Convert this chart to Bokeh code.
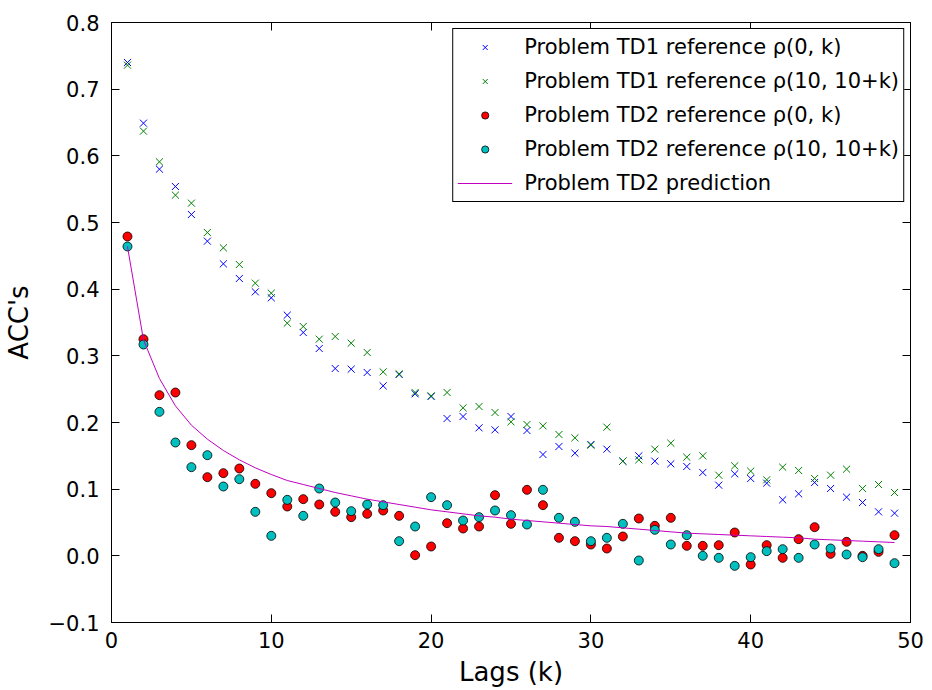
from bokeh.plotting import figure
from bokeh.models import (Range1d, LinearAxis, FixedTicker, CustomJSTickFormatter,
                          Legend, LegendItem)
from bokeh.embed import file_html
from bokeh.resources import INLINE

# ---- data ----
lags = list(range(1, 50))

td1_rho_0k = [0.740, 0.649, 0.580, 0.554, 0.512, 0.472, 0.438, 0.416, 0.396, 0.387,
              0.361, 0.335, 0.311, 0.281, 0.280, 0.275, 0.255, 0.272, 0.243, 0.239,
              0.206, 0.209, 0.192, 0.189, 0.209, 0.188, 0.152, 0.164, 0.154, 0.167,
              0.160, 0.142, 0.150, 0.142, 0.138, 0.134, 0.125, 0.106, 0.123, 0.116,
              0.109, 0.084, 0.093, 0.110, 0.101, 0.088, 0.080, 0.066, 0.064]

td1_rho_10k = [0.736, 0.637, 0.591, 0.541, 0.529, 0.485, 0.462, 0.437, 0.409, 0.394,
               0.349, 0.344, 0.325, 0.329, 0.319, 0.305, 0.276, 0.273, 0.245, 0.240,
               0.245, 0.222, 0.224, 0.215, 0.201, 0.197, 0.195, 0.182, 0.177, 0.166,
               0.193, 0.142, 0.144, 0.160, 0.169, 0.148, 0.150, 0.121, 0.135, 0.127,
               0.114, 0.133, 0.128, 0.116, 0.121, 0.130, 0.101, 0.107, 0.095]

td2_rho_0k = [0.479, 0.325, 0.241, 0.245, 0.166, 0.118, 0.124, 0.131, 0.108, 0.094,
              0.074, 0.085, 0.077, 0.066, 0.058, 0.063, 0.068, 0.060, 0.001, 0.014,
              0.049, 0.041, 0.044, 0.091, 0.048, 0.099, 0.076, 0.027, 0.022, 0.017,
              0.011, 0.029, 0.056, 0.045, 0.057, 0.015, 0.015, 0.016, 0.035, -0.013,
              0.016, -0.003, 0.025, 0.043, 0.003, 0.021, 0.000, 0.006, 0.031]

td2_rho_10k = [0.464, 0.317, 0.216, 0.170, 0.133, 0.151, 0.104, 0.115, 0.066, 0.030,
               0.084, 0.060, 0.101, 0.080, 0.067, 0.077, 0.076, 0.022, 0.044, 0.088,
               0.076, 0.053, 0.058, 0.068, 0.061, 0.047, 0.099, 0.057, 0.051, 0.022,
               0.027, 0.048, -0.007, 0.039, 0.017, 0.031, 0.000, -0.003, -0.015, -0.002,
               0.007, 0.010, -0.003, 0.017, 0.011, 0.002, -0.002, 0.010, -0.011]

td2_prediction = [0.464, 0.324, 0.266, 0.225, 0.196, 0.175, 0.158, 0.144, 0.132, 0.122,
                  0.113, 0.107, 0.101, 0.095, 0.090, 0.085, 0.081, 0.077, 0.073, 0.069,
                  0.066, 0.063, 0.060, 0.058, 0.055, 0.053, 0.051, 0.049, 0.047, 0.045,
                  0.044, 0.042, 0.040, 0.038, 0.036, 0.034, 0.033, 0.032, 0.031, 0.030,
                  0.029, 0.028, 0.027, 0.025, 0.024, 0.023, 0.022, 0.021, 0.020]

x_ticks = [0, 10, 20, 30, 40, 50]
y_ticks = [-0.1, 0.0, 0.1, 0.2, 0.3, 0.4, 0.5, 0.6, 0.7, 0.8]

labels = ["Problem TD1 reference \u03c1(0, k)",
          "Problem TD1 reference \u03c1(10, 10+k)",
          "Problem TD2 reference \u03c1(0, k)",
          "Problem TD2 reference \u03c1(10, 10+k)",
          "Problem TD2 prediction"]

FONT = "DejaVu Sans"

p = figure(width=932, height=690, output_backend="svg", toolbar_location=None,
           x_range=Range1d(0, 50), y_range=Range1d(-0.1, 0.8),
           min_border_left=110, min_border_right=22, min_border_top=22,
           min_border_bottom=68)
p.background_fill_color = "white"
p.border_fill_color = "white"
p.outline_line_color = "black"
p.outline_line_width = 1
p.xgrid.visible = False
p.ygrid.visible = False

fmt = CustomJSTickFormatter(code="""
    return (tick < -1e-9 ? "\\u2212" : "") + Math.abs(tick).toFixed(1);
""")
blank = CustomJSTickFormatter(code="return '';")

def style_axis(ax, show_labels):
    ax.major_tick_in = 8
    ax.major_tick_out = 0
    ax.minor_tick_in = 0
    ax.minor_tick_out = 0
    ax.axis_line_color = "black"
    ax.major_tick_line_color = "black"
    ax.major_label_text_font = FONT
    ax.major_label_text_color = "black"
    ax.major_label_text_font_size = "21px"
    if not show_labels:
        ax.formatter = blank
        ax.major_label_standoff = 0
    ax.axis_label_text_font = FONT
    ax.axis_label_text_font_style = "normal"
    ax.axis_label_text_font_size = "26px"
    ax.axis_label_text_color = "black"

p.xaxis.ticker = FixedTicker(ticks=x_ticks)
p.yaxis.ticker = FixedTicker(ticks=y_ticks)
p.yaxis.formatter = fmt
style_axis(p.xaxis[0], True)
style_axis(p.yaxis[0], True)
p.xaxis.axis_label = "Lags (k)"
p.yaxis.axis_label = "ACC's"
p.xaxis.major_label_standoff = 9
p.yaxis.major_label_standoff = 12
p.xaxis.axis_label_standoff = 6
p.yaxis.axis_label_standoff = 12

top = LinearAxis(ticker=FixedTicker(ticks=x_ticks))
right = LinearAxis(ticker=FixedTicker(ticks=y_ticks))
style_axis(top, False)
style_axis(right, False)
p.add_layout(top, "above")
p.add_layout(right, "right")

r1 = p.scatter(lags, td1_rho_0k, marker="x", size=10, line_color="#0000ff", line_width=1)
r2 = p.scatter(lags, td1_rho_10k, marker="x", size=10, line_color="#008000", line_width=1)
r3 = p.scatter(lags, td2_rho_0k, marker="circle", size=9, fill_color="#ff0000",
               line_color="black", line_width=0.8)
r4 = p.scatter(lags, td2_rho_10k, marker="circle", size=9, fill_color="#00bfbf",
               line_color="black", line_width=0.8)
r5 = p.line(lags, td2_prediction, line_color="#bf00bf", line_width=1)

legend = Legend(items=[LegendItem(label=labels[0], renderers=[r1]),
                       LegendItem(label=labels[1], renderers=[r2]),
                       LegendItem(label=labels[2], renderers=[r3]),
                       LegendItem(label=labels[3], renderers=[r4]),
                       LegendItem(label=labels[4], renderers=[r5])],
                location="top_right")
legend.margin = 6
legend.padding = 4
legend.spacing = 6
legend.label_height = 28
legend.glyph_height = 18
legend.glyph_width = 55
legend.label_standoff = 12
legend.label_text_font = FONT
legend.label_text_font_size = "21px"
legend.label_text_color = "black"
legend.border_line_color = "black"
legend.border_line_width = 1
legend.border_line_alpha = 1
legend.background_fill_color = "white"
legend.background_fill_alpha = 1
p.add_layout(legend)

open("out.html", "w").write(file_html(p, INLINE))
